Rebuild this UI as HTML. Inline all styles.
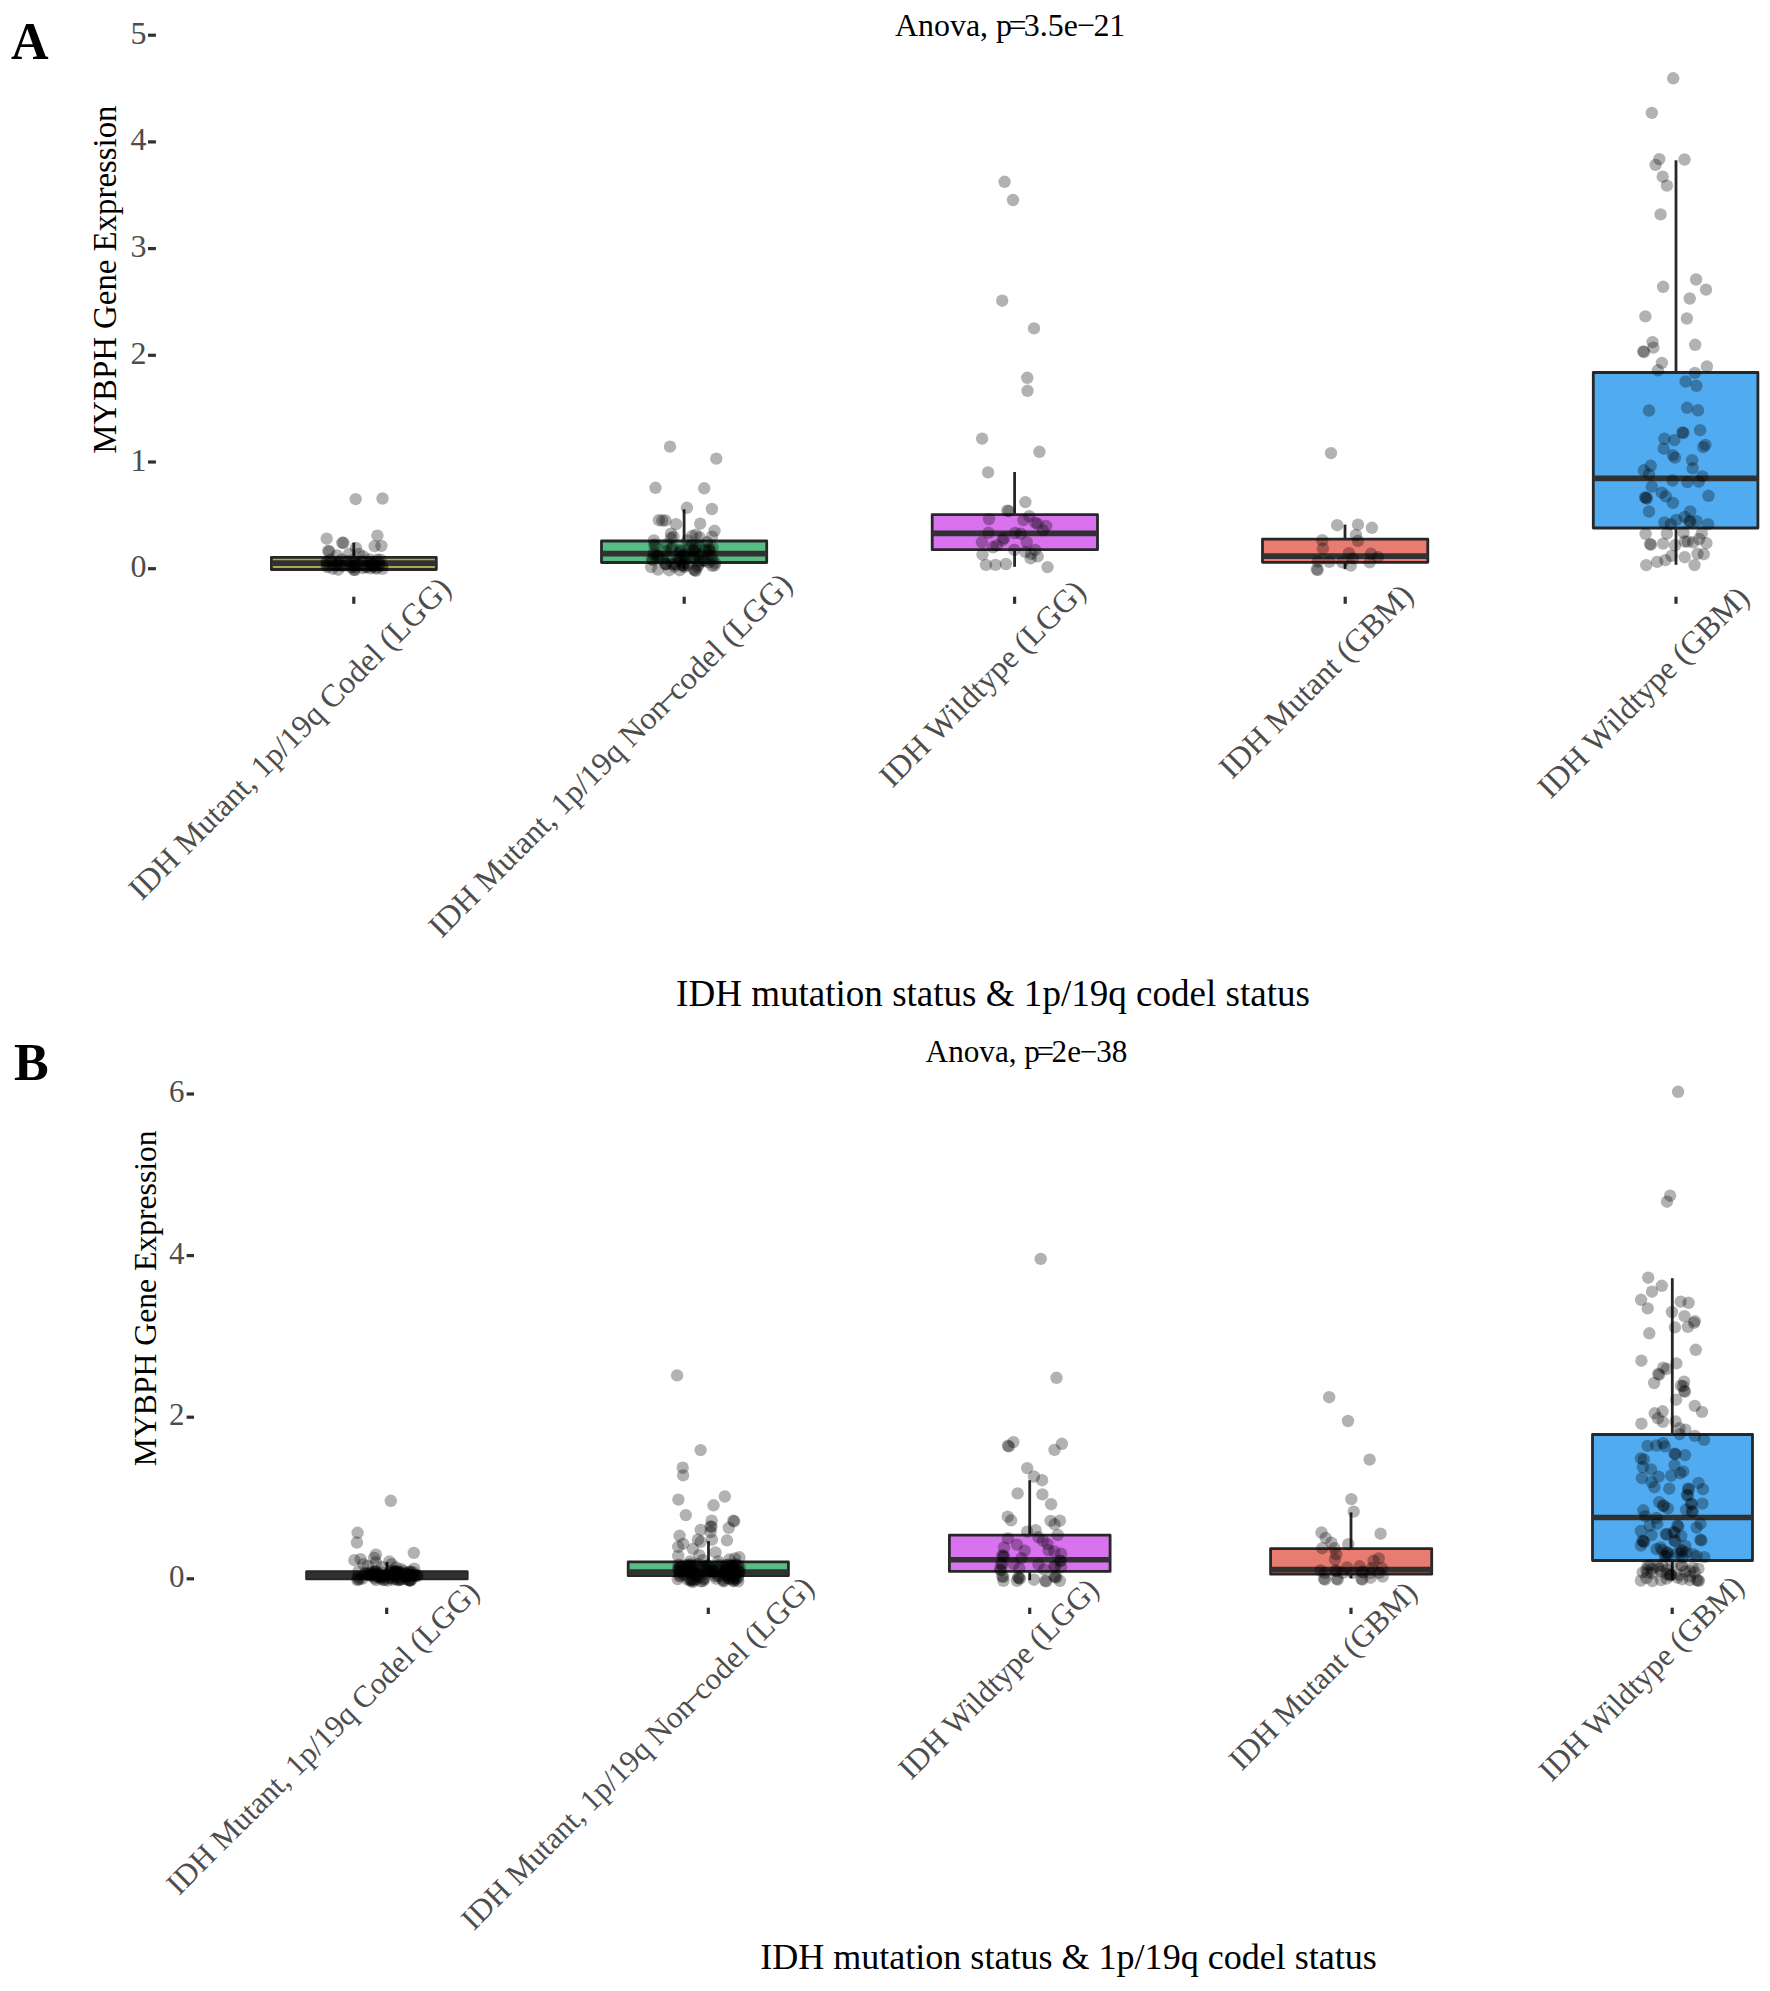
<!DOCTYPE html>
<html lang="en"><head><meta charset="utf-8"><title>MYBPH expression by IDH status</title>
<style>html,body{margin:0;padding:0;background:#fff}svg{display:block}text{font-family:'Liberation Serif', 'Times New Roman', serif}</style></head><body>
<svg width="1770" height="1991" viewBox="0 0 1770 1991">
<rect width="1770" height="1991" fill="#ffffff"/>
<text x="11" y="58.5" font-size="52" font-weight="bold" fill="#000">A</text>
<text x="14" y="1080.4" font-size="52" font-weight="bold" fill="#000">B</text>
<g id="panelA">
<text x="1010.2" y="35.6" font-size="31.9" text-anchor="middle" fill="#000">Anova, p<tspan dx="-3.6">=</tspan><tspan dx="-2.6">3.5e</tspan><tspan dx="-1.2">−</tspan><tspan dx="-1.2">21</tspan></text>
<text transform="translate(116.3,279.7) rotate(-90)" font-size="32.83" text-anchor="middle" fill="#000">MYBPH Gene Expression</text>
<text x="993" y="1006.4" font-size="37.05" text-anchor="middle" fill="#000">IDH mutation status &amp; 1p/19q codel status</text>
<line x1="148" y1="568.7" x2="155.9" y2="568.7" stroke="#303030" stroke-width="3.2"/>
<text x="146.6" y="577.2" font-size="32" text-anchor="end" fill="#4d4d4d">0</text>
<line x1="148" y1="462.0" x2="155.9" y2="462.0" stroke="#303030" stroke-width="3.2"/>
<text x="146.6" y="470.5" font-size="32" text-anchor="end" fill="#4d4d4d">1</text>
<line x1="148" y1="355.3" x2="155.9" y2="355.3" stroke="#303030" stroke-width="3.2"/>
<text x="146.6" y="363.8" font-size="32" text-anchor="end" fill="#4d4d4d">2</text>
<line x1="148" y1="248.6" x2="155.9" y2="248.6" stroke="#303030" stroke-width="3.2"/>
<text x="146.6" y="257.1" font-size="32" text-anchor="end" fill="#4d4d4d">3</text>
<line x1="148" y1="141.9" x2="155.9" y2="141.9" stroke="#303030" stroke-width="3.2"/>
<text x="146.6" y="150.4" font-size="32" text-anchor="end" fill="#4d4d4d">4</text>
<line x1="148" y1="35.2" x2="155.9" y2="35.2" stroke="#303030" stroke-width="3.2"/>
<text x="146.6" y="43.7" font-size="32" text-anchor="end" fill="#4d4d4d">5</text>
<line x1="353.8" y1="596.7" x2="353.8" y2="603.8" stroke="#303030" stroke-width="3.2"/>
<line x1="684.2" y1="596.7" x2="684.2" y2="603.8" stroke="#303030" stroke-width="3.2"/>
<line x1="1014.6" y1="596.7" x2="1014.6" y2="603.8" stroke="#303030" stroke-width="3.2"/>
<line x1="1345.2" y1="596.7" x2="1345.2" y2="603.8" stroke="#303030" stroke-width="3.2"/>
<line x1="1676.0" y1="596.7" x2="1676.0" y2="603.8" stroke="#303030" stroke-width="3.2"/>
<text transform="translate(452.7,590.3) rotate(-45)" font-size="31.9" text-anchor="end" fill="#4d4d4d">IDH Mutant, 1p/19q Codel (LGG)</text>
<text transform="translate(794.0,586.3) rotate(-45)" font-size="31.9" text-anchor="end" fill="#4d4d4d">IDH Mutant, 1p/19q Non<tspan dx="-3.7">−</tspan><tspan dx="-3.7">codel (LGG)</tspan></text>
<text transform="translate(1087.5,593.3) rotate(-45)" font-size="31.9" text-anchor="end" fill="#4d4d4d">IDH Wildtype (LGG)</text>
<text transform="translate(1414.9,597.2) rotate(-45)" font-size="31.9" text-anchor="end" fill="#4d4d4d">IDH Mutant (GBM)</text>
<text transform="translate(1750.9,599.4) rotate(-45)" font-size="31.9" text-anchor="end" fill="#4d4d4d">IDH Wildtype (GBM)</text>
<line x1="353.8" y1="542.6" x2="353.8" y2="557.4" stroke="#272727" stroke-width="2.8"/>
<rect x="271.4" y="557.4" width="164.9" height="12.1" fill="#a9a85a" stroke="#272727" stroke-width="2.8" stroke-linejoin="round"/>
<line x1="271.4" y1="563.1" x2="436.3" y2="563.1" stroke="#313131" stroke-width="5.6"/>
<line x1="684.1" y1="509.3" x2="684.1" y2="541.0" stroke="#272727" stroke-width="2.8"/>
<line x1="684.1" y1="562.5" x2="684.1" y2="568.7" stroke="#272727" stroke-width="2.8"/>
<rect x="601.5" y="541.0" width="165.2" height="21.5" fill="#58bd84" stroke="#272727" stroke-width="2.8" stroke-linejoin="round"/>
<line x1="601.5" y1="553.6" x2="766.7" y2="553.6" stroke="#313131" stroke-width="5.6"/>
<line x1="1014.6" y1="472.0" x2="1014.6" y2="514.6" stroke="#272727" stroke-width="2.8"/>
<line x1="1014.6" y1="549.7" x2="1014.6" y2="566.8" stroke="#272727" stroke-width="2.8"/>
<rect x="932.2" y="514.6" width="165.3" height="35.1" fill="#d872ee" stroke="#272727" stroke-width="2.8" stroke-linejoin="round"/>
<line x1="932.2" y1="533.4" x2="1097.5" y2="533.4" stroke="#313131" stroke-width="5.6"/>
<line x1="1345.0" y1="524.6" x2="1345.0" y2="539.2" stroke="#272727" stroke-width="2.8"/>
<line x1="1345.0" y1="562.3" x2="1345.0" y2="569.2" stroke="#272727" stroke-width="2.8"/>
<rect x="1262.5" y="539.2" width="165.3" height="23.1" fill="#e87c71" stroke="#272727" stroke-width="2.8" stroke-linejoin="round"/>
<line x1="1262.5" y1="556.1" x2="1427.8" y2="556.1" stroke="#313131" stroke-width="5.6"/>
<line x1="1676.0" y1="160.3" x2="1676.0" y2="372.5" stroke="#272727" stroke-width="2.8"/>
<line x1="1676.0" y1="528.0" x2="1676.0" y2="564.8" stroke="#272727" stroke-width="2.8"/>
<rect x="1593.3" y="372.5" width="164.6" height="155.5" fill="#50abf0" stroke="#272727" stroke-width="2.8" stroke-linejoin="round"/>
<line x1="1593.3" y1="478.4" x2="1757.9" y2="478.4" stroke="#313131" stroke-width="5.6"/>
<g fill="#000" fill-opacity="0.3">
<circle cx="355.7" cy="499.1" r="6.2"/>
<circle cx="382.5" cy="498.5" r="6.2"/>
<circle cx="326.7" cy="538.7" r="6.2"/>
<circle cx="377.4" cy="535.6" r="6.2"/>
<circle cx="343.5" cy="542.8" r="6.2"/>
<circle cx="342.3" cy="542.8" r="6.2"/>
<circle cx="374.6" cy="546.2" r="6.2"/>
<circle cx="381.4" cy="545.9" r="6.2"/>
<circle cx="355.9" cy="548.0" r="6.2"/>
<circle cx="328.3" cy="550.9" r="6.2"/>
<circle cx="329.2" cy="551.5" r="6.2"/>
<circle cx="337.0" cy="555.5" r="6.2"/>
<circle cx="349.1" cy="554.0" r="6.2"/>
<circle cx="359.0" cy="554.0" r="6.2"/>
<circle cx="363.4" cy="556.4" r="6.2"/>
<circle cx="332.8" cy="568.7" r="6.2"/>
<circle cx="369.3" cy="562.3" r="6.2"/>
<circle cx="353.7" cy="564.4" r="6.2"/>
<circle cx="362.8" cy="568.0" r="6.2"/>
<circle cx="330.4" cy="559.8" r="6.2"/>
<circle cx="373.5" cy="564.2" r="6.2"/>
<circle cx="369.2" cy="559.5" r="6.2"/>
<circle cx="350.8" cy="567.3" r="6.2"/>
<circle cx="338.3" cy="569.7" r="6.2"/>
<circle cx="377.3" cy="559.8" r="6.2"/>
<circle cx="326.5" cy="565.3" r="6.2"/>
<circle cx="379.5" cy="563.6" r="6.2"/>
<circle cx="337.6" cy="564.1" r="6.2"/>
<circle cx="326.7" cy="561.9" r="6.2"/>
<circle cx="350.4" cy="564.9" r="6.2"/>
<circle cx="338.5" cy="562.0" r="6.2"/>
<circle cx="337.7" cy="564.5" r="6.2"/>
<circle cx="341.8" cy="559.7" r="6.2"/>
<circle cx="373.6" cy="565.5" r="6.2"/>
<circle cx="362.3" cy="561.5" r="6.2"/>
<circle cx="382.6" cy="568.8" r="6.2"/>
<circle cx="332.0" cy="563.1" r="6.2"/>
<circle cx="366.8" cy="567.2" r="6.2"/>
<circle cx="379.3" cy="564.1" r="6.2"/>
<circle cx="373.1" cy="566.7" r="6.2"/>
<circle cx="342.6" cy="565.8" r="6.2"/>
<circle cx="376.2" cy="568.6" r="6.2"/>
<circle cx="354.3" cy="565.9" r="6.2"/>
<circle cx="327.0" cy="562.1" r="6.2"/>
<circle cx="371.2" cy="564.0" r="6.2"/>
<circle cx="335.0" cy="565.4" r="6.2"/>
<circle cx="365.8" cy="566.8" r="6.2"/>
<circle cx="346.7" cy="564.2" r="6.2"/>
<circle cx="354.5" cy="567.9" r="6.2"/>
<circle cx="355.2" cy="563.7" r="6.2"/>
<circle cx="353.4" cy="559.8" r="6.2"/>
<circle cx="327.5" cy="567.1" r="6.2"/>
<circle cx="382.0" cy="565.9" r="6.2"/>
<circle cx="347.8" cy="561.3" r="6.2"/>
<circle cx="354.1" cy="570.1" r="6.2"/>
<circle cx="369.7" cy="565.3" r="6.2"/>
<circle cx="374.9" cy="562.0" r="6.2"/>
<circle cx="354.8" cy="569.8" r="6.2"/>
<circle cx="358.5" cy="564.5" r="6.2"/>
<circle cx="340.6" cy="565.4" r="6.2"/>
<circle cx="380.5" cy="559.6" r="6.2"/>
<circle cx="370.5" cy="568.4" r="6.2"/>
<circle cx="376.4" cy="567.5" r="6.2"/>
<circle cx="371.9" cy="565.1" r="6.2"/>
<circle cx="357.6" cy="564.1" r="6.2"/>
<circle cx="670.0" cy="446.6" r="6.2"/>
<circle cx="716.3" cy="458.6" r="6.2"/>
<circle cx="655.5" cy="487.8" r="6.2"/>
<circle cx="704.2" cy="488.3" r="6.2"/>
<circle cx="686.9" cy="507.8" r="6.2"/>
<circle cx="711.9" cy="509.0" r="6.2"/>
<circle cx="658.9" cy="520.2" r="6.2"/>
<circle cx="662.3" cy="520.5" r="6.2"/>
<circle cx="665.4" cy="520.5" r="6.2"/>
<circle cx="676.1" cy="524.2" r="6.2"/>
<circle cx="700.2" cy="523.7" r="6.2"/>
<circle cx="714.5" cy="530.8" r="6.2"/>
<circle cx="671.0" cy="533.6" r="6.2"/>
<circle cx="673.5" cy="536.7" r="6.2"/>
<circle cx="671.0" cy="538.2" r="6.2"/>
<circle cx="692.2" cy="536.0" r="6.2"/>
<circle cx="695.9" cy="534.8" r="6.2"/>
<circle cx="699.6" cy="537.3" r="6.2"/>
<circle cx="712.0" cy="536.7" r="6.2"/>
<circle cx="653.9" cy="540.4" r="6.2"/>
<circle cx="687.2" cy="540.4" r="6.2"/>
<circle cx="707.0" cy="542.3" r="6.2"/>
<circle cx="651.1" cy="567.1" r="6.2"/>
<circle cx="658.0" cy="569.6" r="6.2"/>
<circle cx="669.2" cy="570.2" r="6.2"/>
<circle cx="679.7" cy="570.2" r="6.2"/>
<circle cx="694.0" cy="569.6" r="6.2"/>
<circle cx="694.9" cy="570.2" r="6.2"/>
<circle cx="695.8" cy="570.8" r="6.2"/>
<circle cx="714.5" cy="565.3" r="6.2"/>
<circle cx="715.0" cy="562.8" r="6.2"/>
<circle cx="712.2" cy="565.8" r="6.2"/>
<circle cx="655.6" cy="546.0" r="6.2"/>
<circle cx="704.6" cy="560.9" r="6.2"/>
<circle cx="694.2" cy="551.1" r="6.2"/>
<circle cx="690.2" cy="558.0" r="6.2"/>
<circle cx="688.6" cy="547.6" r="6.2"/>
<circle cx="679.1" cy="553.1" r="6.2"/>
<circle cx="697.5" cy="566.9" r="6.2"/>
<circle cx="711.8" cy="556.5" r="6.2"/>
<circle cx="680.0" cy="550.2" r="6.2"/>
<circle cx="654.3" cy="544.6" r="6.2"/>
<circle cx="681.3" cy="551.3" r="6.2"/>
<circle cx="675.9" cy="564.5" r="6.2"/>
<circle cx="685.1" cy="556.9" r="6.2"/>
<circle cx="666.9" cy="544.5" r="6.2"/>
<circle cx="672.5" cy="547.1" r="6.2"/>
<circle cx="684.1" cy="567.0" r="6.2"/>
<circle cx="694.5" cy="548.2" r="6.2"/>
<circle cx="708.3" cy="562.3" r="6.2"/>
<circle cx="698.3" cy="564.9" r="6.2"/>
<circle cx="700.1" cy="562.2" r="6.2"/>
<circle cx="674.3" cy="566.6" r="6.2"/>
<circle cx="712.6" cy="547.7" r="6.2"/>
<circle cx="699.5" cy="560.4" r="6.2"/>
<circle cx="681.1" cy="556.2" r="6.2"/>
<circle cx="682.9" cy="565.3" r="6.2"/>
<circle cx="683.6" cy="563.1" r="6.2"/>
<circle cx="674.3" cy="564.3" r="6.2"/>
<circle cx="708.7" cy="554.6" r="6.2"/>
<circle cx="687.8" cy="565.2" r="6.2"/>
<circle cx="697.6" cy="555.2" r="6.2"/>
<circle cx="666.0" cy="551.5" r="6.2"/>
<circle cx="696.1" cy="547.8" r="6.2"/>
<circle cx="709.2" cy="550.2" r="6.2"/>
<circle cx="709.4" cy="551.1" r="6.2"/>
<circle cx="712.3" cy="560.2" r="6.2"/>
<circle cx="683.8" cy="555.9" r="6.2"/>
<circle cx="693.0" cy="557.5" r="6.2"/>
<circle cx="671.6" cy="548.8" r="6.2"/>
<circle cx="684.2" cy="565.5" r="6.2"/>
<circle cx="691.3" cy="545.7" r="6.2"/>
<circle cx="703.7" cy="560.7" r="6.2"/>
<circle cx="709.2" cy="548.4" r="6.2"/>
<circle cx="698.9" cy="545.4" r="6.2"/>
<circle cx="693.1" cy="550.3" r="6.2"/>
<circle cx="666.3" cy="564.1" r="6.2"/>
<circle cx="658.7" cy="556.0" r="6.2"/>
<circle cx="705.8" cy="549.6" r="6.2"/>
<circle cx="665.3" cy="564.3" r="6.2"/>
<circle cx="678.6" cy="560.5" r="6.2"/>
<circle cx="654.0" cy="552.3" r="6.2"/>
<circle cx="662.8" cy="559.5" r="6.2"/>
<circle cx="666.8" cy="555.8" r="6.2"/>
<circle cx="683.8" cy="554.9" r="6.2"/>
<circle cx="677.9" cy="558.4" r="6.2"/>
<circle cx="653.0" cy="560.1" r="6.2"/>
<circle cx="651.9" cy="559.2" r="6.2"/>
<circle cx="653.6" cy="555.1" r="6.2"/>
<circle cx="672.1" cy="563.9" r="6.2"/>
<circle cx="656.4" cy="556.7" r="6.2"/>
<circle cx="682.6" cy="565.4" r="6.2"/>
<circle cx="680.0" cy="558.8" r="6.2"/>
<circle cx="700.8" cy="554.6" r="6.2"/>
<circle cx="694.6" cy="557.5" r="6.2"/>
<circle cx="657.5" cy="555.4" r="6.2"/>
<circle cx="666.0" cy="563.8" r="6.2"/>
<circle cx="1004.6" cy="181.8" r="6.2"/>
<circle cx="1013.0" cy="200.0" r="6.2"/>
<circle cx="1002.2" cy="300.7" r="6.2"/>
<circle cx="1034.0" cy="328.4" r="6.2"/>
<circle cx="1027.3" cy="377.8" r="6.2"/>
<circle cx="1027.5" cy="390.8" r="6.2"/>
<circle cx="982.1" cy="438.6" r="6.2"/>
<circle cx="1039.4" cy="451.8" r="6.2"/>
<circle cx="988.1" cy="472.4" r="6.2"/>
<circle cx="1025.4" cy="502.1" r="6.2"/>
<circle cx="1007.2" cy="510.6" r="6.2"/>
<circle cx="1008.9" cy="511.0" r="6.2"/>
<circle cx="989.0" cy="519.1" r="6.2"/>
<circle cx="1029.3" cy="516.2" r="6.2"/>
<circle cx="1023.4" cy="520.1" r="6.2"/>
<circle cx="1035.1" cy="522.6" r="6.2"/>
<circle cx="1037.7" cy="524.0" r="6.2"/>
<circle cx="1046.2" cy="525.9" r="6.2"/>
<circle cx="1042.9" cy="530.4" r="6.2"/>
<circle cx="988.4" cy="532.8" r="6.2"/>
<circle cx="1015.0" cy="533.0" r="6.2"/>
<circle cx="1020.8" cy="533.7" r="6.2"/>
<circle cx="1004.0" cy="538.2" r="6.2"/>
<circle cx="1002.6" cy="540.2" r="6.2"/>
<circle cx="981.9" cy="542.1" r="6.2"/>
<circle cx="1026.7" cy="542.1" r="6.2"/>
<circle cx="992.9" cy="547.3" r="6.2"/>
<circle cx="996.8" cy="545.4" r="6.2"/>
<circle cx="1014.3" cy="549.9" r="6.2"/>
<circle cx="1035.1" cy="549.9" r="6.2"/>
<circle cx="1025.4" cy="551.9" r="6.2"/>
<circle cx="1031.2" cy="553.8" r="6.2"/>
<circle cx="1037.7" cy="556.4" r="6.2"/>
<circle cx="1030.6" cy="558.4" r="6.2"/>
<circle cx="982.5" cy="554.5" r="6.2"/>
<circle cx="986.0" cy="564.9" r="6.2"/>
<circle cx="995.5" cy="564.9" r="6.2"/>
<circle cx="1005.9" cy="564.0" r="6.2"/>
<circle cx="1047.5" cy="567.1" r="6.2"/>
<circle cx="1331.0" cy="453.1" r="6.2"/>
<circle cx="1337.2" cy="525.2" r="6.2"/>
<circle cx="1358.0" cy="524.6" r="6.2"/>
<circle cx="1371.9" cy="527.8" r="6.2"/>
<circle cx="1356.0" cy="535.0" r="6.2"/>
<circle cx="1322.3" cy="540.2" r="6.2"/>
<circle cx="1358.0" cy="540.8" r="6.2"/>
<circle cx="1322.9" cy="548.6" r="6.2"/>
<circle cx="1348.9" cy="553.2" r="6.2"/>
<circle cx="1371.0" cy="553.8" r="6.2"/>
<circle cx="1352.8" cy="558.4" r="6.2"/>
<circle cx="1378.1" cy="557.1" r="6.2"/>
<circle cx="1317.7" cy="561.6" r="6.2"/>
<circle cx="1329.4" cy="561.9" r="6.2"/>
<circle cx="1342.4" cy="562.3" r="6.2"/>
<circle cx="1369.7" cy="562.3" r="6.2"/>
<circle cx="1350.8" cy="565.5" r="6.2"/>
<circle cx="1316.8" cy="569.4" r="6.2"/>
<circle cx="1317.7" cy="570.0" r="6.2"/>
<circle cx="1673.2" cy="78.3" r="6.2"/>
<circle cx="1651.8" cy="112.9" r="6.2"/>
<circle cx="1659.3" cy="159.1" r="6.2"/>
<circle cx="1655.6" cy="164.9" r="6.2"/>
<circle cx="1684.5" cy="159.5" r="6.2"/>
<circle cx="1662.7" cy="176.7" r="6.2"/>
<circle cx="1666.9" cy="185.6" r="6.2"/>
<circle cx="1660.6" cy="214.4" r="6.2"/>
<circle cx="1696.1" cy="279.5" r="6.2"/>
<circle cx="1663.1" cy="286.8" r="6.2"/>
<circle cx="1706.0" cy="289.6" r="6.2"/>
<circle cx="1689.7" cy="298.5" r="6.2"/>
<circle cx="1645.4" cy="316.4" r="6.2"/>
<circle cx="1686.9" cy="318.5" r="6.2"/>
<circle cx="1652.5" cy="342.1" r="6.2"/>
<circle cx="1653.4" cy="347.6" r="6.2"/>
<circle cx="1643.2" cy="351.4" r="6.2"/>
<circle cx="1644.1" cy="352.0" r="6.2"/>
<circle cx="1695.2" cy="344.8" r="6.2"/>
<circle cx="1661.9" cy="362.9" r="6.2"/>
<circle cx="1657.9" cy="370.3" r="6.2"/>
<circle cx="1706.9" cy="366.5" r="6.2"/>
<circle cx="1694.9" cy="372.9" r="6.2"/>
<circle cx="1685.6" cy="381.5" r="6.2"/>
<circle cx="1696.4" cy="385.8" r="6.2"/>
<circle cx="1649.0" cy="410.5" r="6.2"/>
<circle cx="1687.1" cy="407.8" r="6.2"/>
<circle cx="1698.0" cy="410.3" r="6.2"/>
<circle cx="1700.1" cy="430.2" r="6.2"/>
<circle cx="1682.5" cy="432.4" r="6.2"/>
<circle cx="1683.4" cy="433.0" r="6.2"/>
<circle cx="1664.4" cy="438.8" r="6.2"/>
<circle cx="1674.4" cy="440.1" r="6.2"/>
<circle cx="1705.4" cy="444.9" r="6.2"/>
<circle cx="1703.4" cy="447.0" r="6.2"/>
<circle cx="1663.7" cy="448.7" r="6.2"/>
<circle cx="1672.9" cy="455.1" r="6.2"/>
<circle cx="1674.9" cy="457.6" r="6.2"/>
<circle cx="1692.2" cy="460.2" r="6.2"/>
<circle cx="1650.7" cy="465.8" r="6.2"/>
<circle cx="1692.7" cy="468.3" r="6.2"/>
<circle cx="1643.9" cy="470.3" r="6.2"/>
<circle cx="1649.0" cy="474.4" r="6.2"/>
<circle cx="1702.4" cy="476.4" r="6.2"/>
<circle cx="1672.6" cy="480.5" r="6.2"/>
<circle cx="1687.4" cy="482.0" r="6.2"/>
<circle cx="1698.8" cy="481.5" r="6.2"/>
<circle cx="1651.8" cy="486.6" r="6.2"/>
<circle cx="1661.7" cy="492.7" r="6.2"/>
<circle cx="1665.8" cy="496.3" r="6.2"/>
<circle cx="1645.1" cy="497.3" r="6.2"/>
<circle cx="1646.0" cy="497.9" r="6.2"/>
<circle cx="1646.9" cy="498.5" r="6.2"/>
<circle cx="1708.5" cy="495.8" r="6.2"/>
<circle cx="1672.9" cy="502.9" r="6.2"/>
<circle cx="1649.0" cy="511.5" r="6.2"/>
<circle cx="1690.2" cy="511.5" r="6.2"/>
<circle cx="1684.7" cy="516.9" r="6.2"/>
<circle cx="1676.3" cy="519.9" r="6.2"/>
<circle cx="1689.4" cy="521.2" r="6.2"/>
<circle cx="1690.3" cy="521.8" r="6.2"/>
<circle cx="1664.4" cy="522.5" r="6.2"/>
<circle cx="1670.8" cy="524.2" r="6.2"/>
<circle cx="1696.6" cy="521.2" r="6.2"/>
<circle cx="1708.1" cy="524.2" r="6.2"/>
<circle cx="1645.6" cy="533.9" r="6.2"/>
<circle cx="1666.9" cy="533.5" r="6.2"/>
<circle cx="1683.5" cy="532.6" r="6.2"/>
<circle cx="1701.7" cy="533.5" r="6.2"/>
<circle cx="1650.0" cy="544.1" r="6.2"/>
<circle cx="1650.9" cy="544.7" r="6.2"/>
<circle cx="1663.1" cy="543.6" r="6.2"/>
<circle cx="1675.0" cy="545.3" r="6.2"/>
<circle cx="1684.7" cy="541.5" r="6.2"/>
<circle cx="1687.7" cy="541.5" r="6.2"/>
<circle cx="1693.2" cy="542.4" r="6.2"/>
<circle cx="1699.2" cy="539.0" r="6.2"/>
<circle cx="1706.4" cy="543.2" r="6.2"/>
<circle cx="1697.5" cy="553.8" r="6.2"/>
<circle cx="1703.8" cy="554.2" r="6.2"/>
<circle cx="1684.7" cy="557.2" r="6.2"/>
<circle cx="1671.6" cy="555.9" r="6.2"/>
<circle cx="1665.3" cy="560.2" r="6.2"/>
<circle cx="1657.2" cy="561.9" r="6.2"/>
<circle cx="1646.2" cy="565.1" r="6.2"/>
<circle cx="1694.5" cy="565.1" r="6.2"/>
</g>
</g>
<g id="panelB">
<text x="1026.5" y="1061.5" font-size="31.2" text-anchor="middle" fill="#000">Anova, p<tspan dx="-3.5">=</tspan><tspan dx="-2.5">2e</tspan><tspan dx="-1.2">−</tspan><tspan dx="-1.2">38</tspan></text>
<text transform="translate(156,1298.3) rotate(-90)" font-size="31.67" text-anchor="middle" fill="#000">MYBPH Gene Expression</text>
<text x="1068.5" y="1969.0" font-size="36.05" text-anchor="middle" fill="#000">IDH mutation status &amp; 1p/19q codel status</text>
<line x1="186.6" y1="1578.8" x2="194" y2="1578.8" stroke="#303030" stroke-width="3.2"/>
<text x="184.6" y="1586.8" font-size="31" text-anchor="end" fill="#4d4d4d">0</text>
<line x1="186.6" y1="1417.2" x2="194" y2="1417.2" stroke="#303030" stroke-width="3.2"/>
<text x="184.6" y="1425.2" font-size="31" text-anchor="end" fill="#4d4d4d">2</text>
<line x1="186.6" y1="1255.6" x2="194" y2="1255.6" stroke="#303030" stroke-width="3.2"/>
<text x="184.6" y="1263.6" font-size="31" text-anchor="end" fill="#4d4d4d">4</text>
<line x1="186.6" y1="1094.0" x2="194" y2="1094.0" stroke="#303030" stroke-width="3.2"/>
<text x="184.6" y="1102.0" font-size="31" text-anchor="end" fill="#4d4d4d">6</text>
<line x1="386.7" y1="1607.7" x2="386.7" y2="1614" stroke="#303030" stroke-width="3.2"/>
<line x1="708.3" y1="1607.7" x2="708.3" y2="1614" stroke="#303030" stroke-width="3.2"/>
<line x1="1029.7" y1="1607.7" x2="1029.7" y2="1614" stroke="#303030" stroke-width="3.2"/>
<line x1="1351.0" y1="1607.7" x2="1351.0" y2="1614" stroke="#303030" stroke-width="3.2"/>
<line x1="1672.2" y1="1607.7" x2="1672.2" y2="1614" stroke="#303030" stroke-width="3.2"/>
<text transform="translate(481.0,1594.2) rotate(-45)" font-size="30.95" text-anchor="end" fill="#4d4d4d">IDH Mutant, 1p/19q Codel (LGG)</text>
<text transform="translate(815.7,1589.5) rotate(-45)" font-size="30.95" text-anchor="end" fill="#4d4d4d">IDH Mutant, 1p/19q Non<tspan dx="-3.7">−</tspan><tspan dx="-3.7">codel (LGG)</tspan></text>
<text transform="translate(1100.5,1591.2) rotate(-45)" font-size="30.95" text-anchor="end" fill="#4d4d4d">IDH Wildtype (LGG)</text>
<text transform="translate(1418.9,1594.3) rotate(-45)" font-size="30.95" text-anchor="end" fill="#4d4d4d">IDH Mutant (GBM)</text>
<text transform="translate(1745.8,1588.5) rotate(-45)" font-size="30.95" text-anchor="end" fill="#4d4d4d">IDH Wildtype (GBM)</text>
<line x1="387.0" y1="1561.9" x2="387.0" y2="1571.7" stroke="#272727" stroke-width="2.8"/>
<rect x="306.6" y="1571.7" width="160.6" height="7.2" fill="#2b2b2b" stroke="#272727" stroke-width="2.8" stroke-linejoin="round"/>
<line x1="306.6" y1="1575.3" x2="467.2" y2="1575.3" stroke="#313131" stroke-width="5.6"/>
<line x1="708.5" y1="1541.1" x2="708.5" y2="1561.8" stroke="#272727" stroke-width="2.8"/>
<rect x="628.2" y="1561.8" width="160.2" height="13.9" fill="#58bd84" stroke="#272727" stroke-width="2.8" stroke-linejoin="round"/>
<line x1="628.2" y1="1572.0" x2="788.4" y2="1572.0" stroke="#313131" stroke-width="5.6"/>
<line x1="1029.7" y1="1480.2" x2="1029.7" y2="1535.2" stroke="#272727" stroke-width="2.8"/>
<line x1="1029.7" y1="1571.4" x2="1029.7" y2="1580.2" stroke="#272727" stroke-width="2.8"/>
<rect x="949.4" y="1535.2" width="160.7" height="36.2" fill="#d872ee" stroke="#272727" stroke-width="2.8" stroke-linejoin="round"/>
<line x1="949.4" y1="1559.8" x2="1110.1" y2="1559.8" stroke="#313131" stroke-width="5.6"/>
<line x1="1351.0" y1="1512.4" x2="1351.0" y2="1548.6" stroke="#272727" stroke-width="2.8"/>
<line x1="1351.0" y1="1574.2" x2="1351.0" y2="1578.3" stroke="#272727" stroke-width="2.8"/>
<rect x="1270.6" y="1548.6" width="161.1" height="25.6" fill="#e87c71" stroke="#272727" stroke-width="2.8" stroke-linejoin="round"/>
<line x1="1270.6" y1="1569.6" x2="1431.7" y2="1569.6" stroke="#313131" stroke-width="5.6"/>
<line x1="1672.3" y1="1278.2" x2="1672.3" y2="1434.5" stroke="#272727" stroke-width="2.8"/>
<line x1="1672.3" y1="1560.5" x2="1672.3" y2="1580.1" stroke="#272727" stroke-width="2.8"/>
<rect x="1592.5" y="1434.5" width="160.0" height="126.0" fill="#50abf0" stroke="#272727" stroke-width="2.8" stroke-linejoin="round"/>
<line x1="1592.5" y1="1517.5" x2="1752.5" y2="1517.5" stroke="#313131" stroke-width="5.6"/>
<g fill="#000" fill-opacity="0.3">
<circle cx="390.8" cy="1500.8" r="6.2"/>
<circle cx="357.6" cy="1532.8" r="6.2"/>
<circle cx="356.9" cy="1542.5" r="6.2"/>
<circle cx="413.8" cy="1552.9" r="6.2"/>
<circle cx="375.9" cy="1554.6" r="6.2"/>
<circle cx="374.2" cy="1558.0" r="6.2"/>
<circle cx="354.4" cy="1560.2" r="6.2"/>
<circle cx="360.6" cy="1559.1" r="6.2"/>
<circle cx="363.4" cy="1564.2" r="6.2"/>
<circle cx="375.9" cy="1562.5" r="6.2"/>
<circle cx="389.4" cy="1561.4" r="6.2"/>
<circle cx="391.7" cy="1564.2" r="6.2"/>
<circle cx="414.3" cy="1568.7" r="6.2"/>
<circle cx="401.3" cy="1569.3" r="6.2"/>
<circle cx="368.0" cy="1566.0" r="6.2"/>
<circle cx="382.0" cy="1567.0" r="6.2"/>
<circle cx="396.0" cy="1567.5" r="6.2"/>
<circle cx="371.5" cy="1576.2" r="6.2"/>
<circle cx="379.6" cy="1576.7" r="6.2"/>
<circle cx="395.2" cy="1571.6" r="6.2"/>
<circle cx="357.8" cy="1579.0" r="6.2"/>
<circle cx="372.8" cy="1573.2" r="6.2"/>
<circle cx="417.7" cy="1575.5" r="6.2"/>
<circle cx="408.0" cy="1575.5" r="6.2"/>
<circle cx="396.0" cy="1572.4" r="6.2"/>
<circle cx="395.7" cy="1579.2" r="6.2"/>
<circle cx="388.9" cy="1578.0" r="6.2"/>
<circle cx="398.0" cy="1571.6" r="6.2"/>
<circle cx="403.3" cy="1576.6" r="6.2"/>
<circle cx="375.4" cy="1571.3" r="6.2"/>
<circle cx="409.8" cy="1575.5" r="6.2"/>
<circle cx="400.8" cy="1579.3" r="6.2"/>
<circle cx="400.6" cy="1579.8" r="6.2"/>
<circle cx="381.1" cy="1578.6" r="6.2"/>
<circle cx="384.1" cy="1579.9" r="6.2"/>
<circle cx="410.6" cy="1571.9" r="6.2"/>
<circle cx="365.3" cy="1573.1" r="6.2"/>
<circle cx="415.9" cy="1575.1" r="6.2"/>
<circle cx="395.2" cy="1573.9" r="6.2"/>
<circle cx="387.9" cy="1574.7" r="6.2"/>
<circle cx="378.4" cy="1576.6" r="6.2"/>
<circle cx="392.6" cy="1579.6" r="6.2"/>
<circle cx="398.6" cy="1579.8" r="6.2"/>
<circle cx="409.2" cy="1580.4" r="6.2"/>
<circle cx="397.9" cy="1572.5" r="6.2"/>
<circle cx="409.5" cy="1580.2" r="6.2"/>
<circle cx="412.2" cy="1576.4" r="6.2"/>
<circle cx="400.5" cy="1573.0" r="6.2"/>
<circle cx="407.7" cy="1576.4" r="6.2"/>
<circle cx="374.4" cy="1571.6" r="6.2"/>
<circle cx="409.1" cy="1580.4" r="6.2"/>
<circle cx="362.4" cy="1578.6" r="6.2"/>
<circle cx="382.0" cy="1572.4" r="6.2"/>
<circle cx="374.9" cy="1578.3" r="6.2"/>
<circle cx="410.2" cy="1571.4" r="6.2"/>
<circle cx="394.5" cy="1571.4" r="6.2"/>
<circle cx="400.8" cy="1574.1" r="6.2"/>
<circle cx="410.7" cy="1580.3" r="6.2"/>
<circle cx="387.8" cy="1580.5" r="6.2"/>
<circle cx="375.9" cy="1571.7" r="6.2"/>
<circle cx="393.6" cy="1571.3" r="6.2"/>
<circle cx="369.0" cy="1574.9" r="6.2"/>
<circle cx="394.2" cy="1572.5" r="6.2"/>
<circle cx="359.6" cy="1579.2" r="6.2"/>
<circle cx="376.1" cy="1580.1" r="6.2"/>
<circle cx="411.7" cy="1574.6" r="6.2"/>
<circle cx="385.1" cy="1575.9" r="6.2"/>
<circle cx="396.3" cy="1576.7" r="6.2"/>
<circle cx="391.1" cy="1576.9" r="6.2"/>
<circle cx="414.4" cy="1575.8" r="6.2"/>
<circle cx="383.3" cy="1577.8" r="6.2"/>
<circle cx="371.5" cy="1573.9" r="6.2"/>
<circle cx="416.6" cy="1576.0" r="6.2"/>
<circle cx="390.5" cy="1571.1" r="6.2"/>
<circle cx="382.3" cy="1576.5" r="6.2"/>
<circle cx="358.2" cy="1576.9" r="6.2"/>
<circle cx="395.6" cy="1571.6" r="6.2"/>
<circle cx="395.3" cy="1575.4" r="6.2"/>
<circle cx="398.4" cy="1574.3" r="6.2"/>
<circle cx="400.1" cy="1578.0" r="6.2"/>
<circle cx="358.4" cy="1571.6" r="6.2"/>
<circle cx="398.2" cy="1580.2" r="6.2"/>
<circle cx="372.3" cy="1575.3" r="6.2"/>
<circle cx="393.2" cy="1574.0" r="6.2"/>
<circle cx="379.2" cy="1574.0" r="6.2"/>
<circle cx="379.5" cy="1576.7" r="6.2"/>
<circle cx="375.3" cy="1574.6" r="6.2"/>
<circle cx="404.1" cy="1571.3" r="6.2"/>
<circle cx="391.7" cy="1578.0" r="6.2"/>
<circle cx="375.9" cy="1573.1" r="6.2"/>
<circle cx="406.0" cy="1573.3" r="6.2"/>
<circle cx="368.4" cy="1575.1" r="6.2"/>
<circle cx="399.6" cy="1572.0" r="6.2"/>
<circle cx="376.6" cy="1574.2" r="6.2"/>
<circle cx="407.8" cy="1575.2" r="6.2"/>
<circle cx="409.2" cy="1572.6" r="6.2"/>
<circle cx="377.5" cy="1577.2" r="6.2"/>
<circle cx="411.0" cy="1575.3" r="6.2"/>
<circle cx="370.7" cy="1572.1" r="6.2"/>
<circle cx="389.3" cy="1572.8" r="6.2"/>
<circle cx="406.2" cy="1579.0" r="6.2"/>
<circle cx="368.2" cy="1573.6" r="6.2"/>
<circle cx="406.2" cy="1577.1" r="6.2"/>
<circle cx="406.2" cy="1574.3" r="6.2"/>
<circle cx="364.9" cy="1573.8" r="6.2"/>
<circle cx="405.4" cy="1573.6" r="6.2"/>
<circle cx="378.1" cy="1575.0" r="6.2"/>
<circle cx="382.6" cy="1574.9" r="6.2"/>
<circle cx="413.2" cy="1572.5" r="6.2"/>
<circle cx="357.3" cy="1580.0" r="6.2"/>
<circle cx="410.7" cy="1580.4" r="6.2"/>
<circle cx="383.5" cy="1580.0" r="6.2"/>
<circle cx="677.1" cy="1375.4" r="6.2"/>
<circle cx="700.6" cy="1450.1" r="6.2"/>
<circle cx="682.7" cy="1467.7" r="6.2"/>
<circle cx="683.1" cy="1475.4" r="6.2"/>
<circle cx="678.4" cy="1499.6" r="6.2"/>
<circle cx="724.8" cy="1496.5" r="6.2"/>
<circle cx="713.5" cy="1505.3" r="6.2"/>
<circle cx="685.8" cy="1515.1" r="6.2"/>
<circle cx="711.7" cy="1520.7" r="6.2"/>
<circle cx="733.3" cy="1520.7" r="6.2"/>
<circle cx="734.2" cy="1521.3" r="6.2"/>
<circle cx="710.6" cy="1526.4" r="6.2"/>
<circle cx="711.5" cy="1527.0" r="6.2"/>
<circle cx="728.8" cy="1527.8" r="6.2"/>
<circle cx="700.7" cy="1529.9" r="6.2"/>
<circle cx="710.6" cy="1532.0" r="6.2"/>
<circle cx="679.6" cy="1535.8" r="6.2"/>
<circle cx="697.9" cy="1539.7" r="6.2"/>
<circle cx="700.7" cy="1541.8" r="6.2"/>
<circle cx="712.0" cy="1539.7" r="6.2"/>
<circle cx="727.0" cy="1540.4" r="6.2"/>
<circle cx="683.1" cy="1543.9" r="6.2"/>
<circle cx="678.2" cy="1546.8" r="6.2"/>
<circle cx="693.0" cy="1548.9" r="6.2"/>
<circle cx="715.5" cy="1552.4" r="6.2"/>
<circle cx="699.3" cy="1555.2" r="6.2"/>
<circle cx="678.2" cy="1555.9" r="6.2"/>
<circle cx="729.5" cy="1559.4" r="6.2"/>
<circle cx="739.4" cy="1557.3" r="6.2"/>
<circle cx="735.0" cy="1558.5" r="6.2"/>
<circle cx="690.2" cy="1561.5" r="6.2"/>
<circle cx="702.8" cy="1560.1" r="6.2"/>
<circle cx="718.3" cy="1561.5" r="6.2"/>
<circle cx="691.9" cy="1565.9" r="6.2"/>
<circle cx="702.0" cy="1566.8" r="6.2"/>
<circle cx="681.2" cy="1571.2" r="6.2"/>
<circle cx="734.8" cy="1578.4" r="6.2"/>
<circle cx="725.2" cy="1568.0" r="6.2"/>
<circle cx="710.8" cy="1569.0" r="6.2"/>
<circle cx="687.9" cy="1565.9" r="6.2"/>
<circle cx="690.5" cy="1580.7" r="6.2"/>
<circle cx="729.2" cy="1578.5" r="6.2"/>
<circle cx="727.4" cy="1567.5" r="6.2"/>
<circle cx="696.5" cy="1575.3" r="6.2"/>
<circle cx="723.1" cy="1579.4" r="6.2"/>
<circle cx="732.4" cy="1565.6" r="6.2"/>
<circle cx="715.2" cy="1576.1" r="6.2"/>
<circle cx="708.9" cy="1567.2" r="6.2"/>
<circle cx="706.8" cy="1565.6" r="6.2"/>
<circle cx="735.9" cy="1579.6" r="6.2"/>
<circle cx="711.5" cy="1569.4" r="6.2"/>
<circle cx="734.3" cy="1574.3" r="6.2"/>
<circle cx="732.6" cy="1579.3" r="6.2"/>
<circle cx="709.0" cy="1571.5" r="6.2"/>
<circle cx="714.7" cy="1571.8" r="6.2"/>
<circle cx="687.2" cy="1569.5" r="6.2"/>
<circle cx="728.2" cy="1564.8" r="6.2"/>
<circle cx="679.9" cy="1575.3" r="6.2"/>
<circle cx="694.7" cy="1573.6" r="6.2"/>
<circle cx="706.7" cy="1570.2" r="6.2"/>
<circle cx="739.8" cy="1567.5" r="6.2"/>
<circle cx="703.0" cy="1567.6" r="6.2"/>
<circle cx="716.9" cy="1569.0" r="6.2"/>
<circle cx="699.4" cy="1577.4" r="6.2"/>
<circle cx="697.2" cy="1574.1" r="6.2"/>
<circle cx="734.0" cy="1565.8" r="6.2"/>
<circle cx="680.9" cy="1568.1" r="6.2"/>
<circle cx="725.2" cy="1575.1" r="6.2"/>
<circle cx="692.0" cy="1570.0" r="6.2"/>
<circle cx="688.2" cy="1572.3" r="6.2"/>
<circle cx="679.7" cy="1576.6" r="6.2"/>
<circle cx="733.4" cy="1581.2" r="6.2"/>
<circle cx="723.3" cy="1581.3" r="6.2"/>
<circle cx="678.1" cy="1569.2" r="6.2"/>
<circle cx="737.9" cy="1578.0" r="6.2"/>
<circle cx="702.9" cy="1581.0" r="6.2"/>
<circle cx="716.1" cy="1578.7" r="6.2"/>
<circle cx="695.5" cy="1567.4" r="6.2"/>
<circle cx="705.0" cy="1566.5" r="6.2"/>
<circle cx="701.0" cy="1581.3" r="6.2"/>
<circle cx="697.9" cy="1564.2" r="6.2"/>
<circle cx="679.8" cy="1567.1" r="6.2"/>
<circle cx="726.4" cy="1570.5" r="6.2"/>
<circle cx="695.3" cy="1565.7" r="6.2"/>
<circle cx="738.9" cy="1571.6" r="6.2"/>
<circle cx="690.1" cy="1565.1" r="6.2"/>
<circle cx="680.5" cy="1567.0" r="6.2"/>
<circle cx="719.6" cy="1566.7" r="6.2"/>
<circle cx="679.6" cy="1572.8" r="6.2"/>
<circle cx="692.7" cy="1582.0" r="6.2"/>
<circle cx="684.7" cy="1573.5" r="6.2"/>
<circle cx="725.7" cy="1571.4" r="6.2"/>
<circle cx="739.2" cy="1572.6" r="6.2"/>
<circle cx="692.2" cy="1571.4" r="6.2"/>
<circle cx="679.3" cy="1571.6" r="6.2"/>
<circle cx="692.7" cy="1580.0" r="6.2"/>
<circle cx="729.4" cy="1573.0" r="6.2"/>
<circle cx="679.0" cy="1568.6" r="6.2"/>
<circle cx="692.3" cy="1567.7" r="6.2"/>
<circle cx="691.6" cy="1579.7" r="6.2"/>
<circle cx="685.9" cy="1564.9" r="6.2"/>
<circle cx="735.5" cy="1574.2" r="6.2"/>
<circle cx="739.4" cy="1571.3" r="6.2"/>
<circle cx="733.8" cy="1575.8" r="6.2"/>
<circle cx="726.8" cy="1577.4" r="6.2"/>
<circle cx="708.1" cy="1565.7" r="6.2"/>
<circle cx="690.3" cy="1579.7" r="6.2"/>
<circle cx="733.7" cy="1580.6" r="6.2"/>
<circle cx="698.2" cy="1575.8" r="6.2"/>
<circle cx="727.4" cy="1575.6" r="6.2"/>
<circle cx="728.3" cy="1573.5" r="6.2"/>
<circle cx="718.2" cy="1576.3" r="6.2"/>
<circle cx="693.9" cy="1580.6" r="6.2"/>
<circle cx="737.2" cy="1565.3" r="6.2"/>
<circle cx="738.2" cy="1581.3" r="6.2"/>
<circle cx="719.1" cy="1564.8" r="6.2"/>
<circle cx="733.6" cy="1566.3" r="6.2"/>
<circle cx="738.0" cy="1576.0" r="6.2"/>
<circle cx="680.8" cy="1567.0" r="6.2"/>
<circle cx="717.0" cy="1574.2" r="6.2"/>
<circle cx="724.0" cy="1580.7" r="6.2"/>
<circle cx="690.8" cy="1564.1" r="6.2"/>
<circle cx="735.1" cy="1564.2" r="6.2"/>
<circle cx="732.2" cy="1566.1" r="6.2"/>
<circle cx="728.0" cy="1578.1" r="6.2"/>
<circle cx="732.3" cy="1573.9" r="6.2"/>
<circle cx="732.4" cy="1567.6" r="6.2"/>
<circle cx="719.3" cy="1570.0" r="6.2"/>
<circle cx="733.2" cy="1577.9" r="6.2"/>
<circle cx="706.7" cy="1573.5" r="6.2"/>
<circle cx="678.7" cy="1564.6" r="6.2"/>
<circle cx="714.5" cy="1572.8" r="6.2"/>
<circle cx="731.5" cy="1574.9" r="6.2"/>
<circle cx="685.7" cy="1570.5" r="6.2"/>
<circle cx="725.4" cy="1573.4" r="6.2"/>
<circle cx="677.7" cy="1579.1" r="6.2"/>
<circle cx="729.1" cy="1565.5" r="6.2"/>
<circle cx="711.2" cy="1570.9" r="6.2"/>
<circle cx="726.6" cy="1569.6" r="6.2"/>
<circle cx="691.7" cy="1572.8" r="6.2"/>
<circle cx="737.9" cy="1565.7" r="6.2"/>
<circle cx="684.2" cy="1575.2" r="6.2"/>
<circle cx="732.8" cy="1573.2" r="6.2"/>
<circle cx="704.3" cy="1579.4" r="6.2"/>
<circle cx="725.9" cy="1565.2" r="6.2"/>
<circle cx="732.5" cy="1567.5" r="6.2"/>
<circle cx="696.0" cy="1579.1" r="6.2"/>
<circle cx="703.6" cy="1578.4" r="6.2"/>
<circle cx="687.5" cy="1579.7" r="6.2"/>
<circle cx="688.1" cy="1566.7" r="6.2"/>
<circle cx="708.1" cy="1570.1" r="6.2"/>
<circle cx="1040.7" cy="1258.9" r="6.2"/>
<circle cx="1056.5" cy="1377.8" r="6.2"/>
<circle cx="1013.4" cy="1442.1" r="6.2"/>
<circle cx="1008.0" cy="1445.8" r="6.2"/>
<circle cx="1008.9" cy="1446.4" r="6.2"/>
<circle cx="1061.9" cy="1443.8" r="6.2"/>
<circle cx="1054.5" cy="1449.9" r="6.2"/>
<circle cx="1027.2" cy="1468.1" r="6.2"/>
<circle cx="1034.0" cy="1476.5" r="6.2"/>
<circle cx="1042.1" cy="1480.2" r="6.2"/>
<circle cx="1017.6" cy="1493.4" r="6.2"/>
<circle cx="1042.4" cy="1494.4" r="6.2"/>
<circle cx="1051.1" cy="1504.2" r="6.2"/>
<circle cx="1007.7" cy="1516.7" r="6.2"/>
<circle cx="1011.1" cy="1520.3" r="6.2"/>
<circle cx="1050.6" cy="1520.9" r="6.2"/>
<circle cx="1059.9" cy="1520.7" r="6.2"/>
<circle cx="1054.6" cy="1524.3" r="6.2"/>
<circle cx="1035.6" cy="1530.2" r="6.2"/>
<circle cx="1027.2" cy="1531.6" r="6.2"/>
<circle cx="1057.7" cy="1535.0" r="6.2"/>
<circle cx="1008.0" cy="1538.4" r="6.2"/>
<circle cx="1038.5" cy="1537.3" r="6.2"/>
<circle cx="1043.0" cy="1540.7" r="6.2"/>
<circle cx="1017.0" cy="1544.6" r="6.2"/>
<circle cx="1047.5" cy="1544.1" r="6.2"/>
<circle cx="1004.0" cy="1547.5" r="6.2"/>
<circle cx="1024.7" cy="1550.6" r="6.2"/>
<circle cx="1048.6" cy="1550.3" r="6.2"/>
<circle cx="1054.3" cy="1551.4" r="6.2"/>
<circle cx="1061.1" cy="1553.7" r="6.2"/>
<circle cx="1002.3" cy="1555.4" r="6.2"/>
<circle cx="1003.2" cy="1556.0" r="6.2"/>
<circle cx="1004.1" cy="1556.6" r="6.2"/>
<circle cx="1021.5" cy="1558.2" r="6.2"/>
<circle cx="1059.9" cy="1560.5" r="6.2"/>
<circle cx="1060.8" cy="1561.1" r="6.2"/>
<circle cx="1001.2" cy="1563.8" r="6.2"/>
<circle cx="1002.1" cy="1564.4" r="6.2"/>
<circle cx="1013.6" cy="1563.8" r="6.2"/>
<circle cx="1038.5" cy="1564.4" r="6.2"/>
<circle cx="1054.3" cy="1566.1" r="6.2"/>
<circle cx="1055.2" cy="1566.7" r="6.2"/>
<circle cx="1000.1" cy="1569.5" r="6.2"/>
<circle cx="1001.0" cy="1570.1" r="6.2"/>
<circle cx="1019.3" cy="1568.4" r="6.2"/>
<circle cx="1044.1" cy="1569.5" r="6.2"/>
<circle cx="1061.1" cy="1567.2" r="6.2"/>
<circle cx="1002.3" cy="1576.3" r="6.2"/>
<circle cx="1003.2" cy="1576.9" r="6.2"/>
<circle cx="1018.1" cy="1577.4" r="6.2"/>
<circle cx="1019.0" cy="1578.0" r="6.2"/>
<circle cx="1019.9" cy="1578.6" r="6.2"/>
<circle cx="1003.4" cy="1580.8" r="6.2"/>
<circle cx="1034.0" cy="1579.7" r="6.2"/>
<circle cx="1045.3" cy="1580.8" r="6.2"/>
<circle cx="1046.2" cy="1581.4" r="6.2"/>
<circle cx="1054.3" cy="1576.3" r="6.2"/>
<circle cx="1055.2" cy="1576.9" r="6.2"/>
<circle cx="1056.1" cy="1577.5" r="6.2"/>
<circle cx="1059.9" cy="1580.8" r="6.2"/>
<circle cx="1017.0" cy="1580.8" r="6.2"/>
<circle cx="1329.2" cy="1397.2" r="6.2"/>
<circle cx="1348.0" cy="1421.0" r="6.2"/>
<circle cx="1369.6" cy="1459.6" r="6.2"/>
<circle cx="1351.3" cy="1499.1" r="6.2"/>
<circle cx="1353.7" cy="1511.6" r="6.2"/>
<circle cx="1321.5" cy="1532.5" r="6.2"/>
<circle cx="1380.6" cy="1533.7" r="6.2"/>
<circle cx="1325.7" cy="1537.9" r="6.2"/>
<circle cx="1331.4" cy="1542.7" r="6.2"/>
<circle cx="1348.3" cy="1544.2" r="6.2"/>
<circle cx="1322.3" cy="1548.2" r="6.2"/>
<circle cx="1334.4" cy="1548.2" r="6.2"/>
<circle cx="1336.2" cy="1554.2" r="6.2"/>
<circle cx="1335.0" cy="1559.6" r="6.2"/>
<circle cx="1378.8" cy="1558.4" r="6.2"/>
<circle cx="1373.6" cy="1560.8" r="6.2"/>
<circle cx="1347.0" cy="1567.5" r="6.2"/>
<circle cx="1359.7" cy="1566.3" r="6.2"/>
<circle cx="1371.8" cy="1568.1" r="6.2"/>
<circle cx="1382.0" cy="1568.1" r="6.2"/>
<circle cx="1320.5" cy="1570.5" r="6.2"/>
<circle cx="1324.7" cy="1572.9" r="6.2"/>
<circle cx="1335.6" cy="1570.5" r="6.2"/>
<circle cx="1336.5" cy="1571.1" r="6.2"/>
<circle cx="1342.8" cy="1572.9" r="6.2"/>
<circle cx="1352.5" cy="1572.9" r="6.2"/>
<circle cx="1362.1" cy="1571.7" r="6.2"/>
<circle cx="1363.0" cy="1572.3" r="6.2"/>
<circle cx="1370.6" cy="1572.9" r="6.2"/>
<circle cx="1379.0" cy="1572.9" r="6.2"/>
<circle cx="1324.1" cy="1578.9" r="6.2"/>
<circle cx="1325.0" cy="1579.5" r="6.2"/>
<circle cx="1336.8" cy="1578.9" r="6.2"/>
<circle cx="1337.7" cy="1579.5" r="6.2"/>
<circle cx="1361.5" cy="1578.9" r="6.2"/>
<circle cx="1362.4" cy="1579.5" r="6.2"/>
<circle cx="1370.6" cy="1577.7" r="6.2"/>
<circle cx="1382.6" cy="1576.5" r="6.2"/>
<circle cx="1678.1" cy="1091.8" r="6.2"/>
<circle cx="1670.1" cy="1195.7" r="6.2"/>
<circle cx="1667.0" cy="1201.7" r="6.2"/>
<circle cx="1648.2" cy="1277.7" r="6.2"/>
<circle cx="1661.8" cy="1285.8" r="6.2"/>
<circle cx="1652.0" cy="1291.7" r="6.2"/>
<circle cx="1641.1" cy="1299.8" r="6.2"/>
<circle cx="1647.7" cy="1308.4" r="6.2"/>
<circle cx="1680.7" cy="1301.6" r="6.2"/>
<circle cx="1688.6" cy="1302.8" r="6.2"/>
<circle cx="1671.9" cy="1312.0" r="6.2"/>
<circle cx="1684.5" cy="1316.1" r="6.2"/>
<circle cx="1694.8" cy="1321.1" r="6.2"/>
<circle cx="1694.0" cy="1322.9" r="6.2"/>
<circle cx="1674.9" cy="1327.4" r="6.2"/>
<circle cx="1687.9" cy="1326.9" r="6.2"/>
<circle cx="1649.3" cy="1333.3" r="6.2"/>
<circle cx="1695.7" cy="1349.8" r="6.2"/>
<circle cx="1641.4" cy="1360.7" r="6.2"/>
<circle cx="1676.4" cy="1363.4" r="6.2"/>
<circle cx="1663.3" cy="1367.6" r="6.2"/>
<circle cx="1666.5" cy="1369.0" r="6.2"/>
<circle cx="1658.3" cy="1374.0" r="6.2"/>
<circle cx="1659.2" cy="1374.6" r="6.2"/>
<circle cx="1654.2" cy="1383.0" r="6.2"/>
<circle cx="1684.1" cy="1381.6" r="6.2"/>
<circle cx="1680.9" cy="1385.7" r="6.2"/>
<circle cx="1683.2" cy="1386.2" r="6.2"/>
<circle cx="1684.1" cy="1391.1" r="6.2"/>
<circle cx="1685.0" cy="1391.7" r="6.2"/>
<circle cx="1676.2" cy="1399.7" r="6.2"/>
<circle cx="1694.8" cy="1405.9" r="6.2"/>
<circle cx="1702.0" cy="1411.9" r="6.2"/>
<circle cx="1662.6" cy="1411.3" r="6.2"/>
<circle cx="1654.7" cy="1413.3" r="6.2"/>
<circle cx="1657.9" cy="1418.3" r="6.2"/>
<circle cx="1662.8" cy="1421.9" r="6.2"/>
<circle cx="1641.4" cy="1423.7" r="6.2"/>
<circle cx="1675.5" cy="1421.4" r="6.2"/>
<circle cx="1679.6" cy="1428.2" r="6.2"/>
<circle cx="1685.4" cy="1429.6" r="6.2"/>
<circle cx="1679.6" cy="1434.1" r="6.2"/>
<circle cx="1694.9" cy="1435.9" r="6.2"/>
<circle cx="1704.0" cy="1439.9" r="6.2"/>
<circle cx="1647.6" cy="1445.9" r="6.2"/>
<circle cx="1656.3" cy="1445.5" r="6.2"/>
<circle cx="1663.0" cy="1443.1" r="6.2"/>
<circle cx="1664.9" cy="1446.4" r="6.2"/>
<circle cx="1674.5" cy="1453.6" r="6.2"/>
<circle cx="1675.4" cy="1454.2" r="6.2"/>
<circle cx="1685.1" cy="1455.1" r="6.2"/>
<circle cx="1640.9" cy="1458.4" r="6.2"/>
<circle cx="1643.8" cy="1459.4" r="6.2"/>
<circle cx="1674.5" cy="1465.1" r="6.2"/>
<circle cx="1642.8" cy="1467.1" r="6.2"/>
<circle cx="1651.0" cy="1469.5" r="6.2"/>
<circle cx="1683.2" cy="1471.4" r="6.2"/>
<circle cx="1680.3" cy="1473.3" r="6.2"/>
<circle cx="1671.2" cy="1475.7" r="6.2"/>
<circle cx="1658.7" cy="1476.7" r="6.2"/>
<circle cx="1641.9" cy="1478.1" r="6.2"/>
<circle cx="1651.5" cy="1482.0" r="6.2"/>
<circle cx="1654.4" cy="1487.2" r="6.2"/>
<circle cx="1669.3" cy="1488.7" r="6.2"/>
<circle cx="1698.5" cy="1482.9" r="6.2"/>
<circle cx="1702.9" cy="1489.2" r="6.2"/>
<circle cx="1688.0" cy="1488.7" r="6.2"/>
<circle cx="1688.9" cy="1489.3" r="6.2"/>
<circle cx="1687.0" cy="1494.9" r="6.2"/>
<circle cx="1687.9" cy="1495.5" r="6.2"/>
<circle cx="1659.2" cy="1502.1" r="6.2"/>
<circle cx="1663.0" cy="1505.5" r="6.2"/>
<circle cx="1663.9" cy="1506.1" r="6.2"/>
<circle cx="1667.8" cy="1508.4" r="6.2"/>
<circle cx="1690.9" cy="1503.6" r="6.2"/>
<circle cx="1691.8" cy="1504.2" r="6.2"/>
<circle cx="1702.4" cy="1503.6" r="6.2"/>
<circle cx="1686.1" cy="1509.8" r="6.2"/>
<circle cx="1691.8" cy="1511.3" r="6.2"/>
<circle cx="1692.7" cy="1511.9" r="6.2"/>
<circle cx="1643.3" cy="1510.3" r="6.2"/>
<circle cx="1645.2" cy="1516.1" r="6.2"/>
<circle cx="1656.3" cy="1518.0" r="6.2"/>
<circle cx="1657.2" cy="1523.7" r="6.2"/>
<circle cx="1649.6" cy="1525.7" r="6.2"/>
<circle cx="1677.4" cy="1525.7" r="6.2"/>
<circle cx="1678.3" cy="1526.3" r="6.2"/>
<circle cx="1700.5" cy="1523.7" r="6.2"/>
<circle cx="1696.6" cy="1527.6" r="6.2"/>
<circle cx="1640.9" cy="1531.0" r="6.2"/>
<circle cx="1651.5" cy="1535.0" r="6.2"/>
<circle cx="1642.4" cy="1540.7" r="6.2"/>
<circle cx="1643.3" cy="1541.3" r="6.2"/>
<circle cx="1644.2" cy="1541.9" r="6.2"/>
<circle cx="1640.9" cy="1545.5" r="6.2"/>
<circle cx="1665.9" cy="1534.0" r="6.2"/>
<circle cx="1666.8" cy="1534.6" r="6.2"/>
<circle cx="1673.6" cy="1532.1" r="6.2"/>
<circle cx="1674.5" cy="1532.7" r="6.2"/>
<circle cx="1681.3" cy="1535.9" r="6.2"/>
<circle cx="1674.5" cy="1540.7" r="6.2"/>
<circle cx="1675.4" cy="1541.3" r="6.2"/>
<circle cx="1700.5" cy="1539.8" r="6.2"/>
<circle cx="1701.4" cy="1540.4" r="6.2"/>
<circle cx="1660.6" cy="1547.5" r="6.2"/>
<circle cx="1666.8" cy="1552.3" r="6.2"/>
<circle cx="1667.7" cy="1552.9" r="6.2"/>
<circle cx="1681.3" cy="1550.3" r="6.2"/>
<circle cx="1682.2" cy="1550.9" r="6.2"/>
<circle cx="1664.9" cy="1556.1" r="6.2"/>
<circle cx="1665.8" cy="1556.7" r="6.2"/>
<circle cx="1682.2" cy="1557.1" r="6.2"/>
<circle cx="1692.8" cy="1554.2" r="6.2"/>
<circle cx="1696.6" cy="1556.1" r="6.2"/>
<circle cx="1704.3" cy="1557.1" r="6.2"/>
<circle cx="1647.6" cy="1565.7" r="6.2"/>
<circle cx="1662.0" cy="1565.7" r="6.2"/>
<circle cx="1682.2" cy="1565.7" r="6.2"/>
<circle cx="1692.8" cy="1567.6" r="6.2"/>
<circle cx="1698.5" cy="1568.6" r="6.2"/>
<circle cx="1647.6" cy="1572.4" r="6.2"/>
<circle cx="1661.1" cy="1571.5" r="6.2"/>
<circle cx="1640.9" cy="1580.6" r="6.2"/>
<circle cx="1652.4" cy="1581.1" r="6.2"/>
<circle cx="1661.1" cy="1580.1" r="6.2"/>
<circle cx="1682.2" cy="1579.2" r="6.2"/>
<circle cx="1689.9" cy="1580.1" r="6.2"/>
<circle cx="1696.6" cy="1580.1" r="6.2"/>
<circle cx="1667.2" cy="1574.0" r="6.2"/>
<circle cx="1694.6" cy="1572.5" r="6.2"/>
<circle cx="1670.5" cy="1574.4" r="6.2"/>
<circle cx="1651.7" cy="1573.2" r="6.2"/>
<circle cx="1677.5" cy="1577.7" r="6.2"/>
<circle cx="1646.5" cy="1569.9" r="6.2"/>
<circle cx="1646.3" cy="1578.0" r="6.2"/>
<circle cx="1681.2" cy="1565.7" r="6.2"/>
<circle cx="1698.0" cy="1580.4" r="6.2"/>
<circle cx="1678.9" cy="1574.8" r="6.2"/>
<circle cx="1650.1" cy="1565.2" r="6.2"/>
<circle cx="1671.6" cy="1566.0" r="6.2"/>
<circle cx="1652.0" cy="1568.9" r="6.2"/>
<circle cx="1642.7" cy="1572.4" r="6.2"/>
<circle cx="1666.6" cy="1578.5" r="6.2"/>
<circle cx="1671.1" cy="1575.2" r="6.2"/>
<circle cx="1670.0" cy="1575.6" r="6.2"/>
<circle cx="1667.5" cy="1569.5" r="6.2"/>
<circle cx="1698.9" cy="1580.9" r="6.2"/>
<circle cx="1689.7" cy="1576.3" r="6.2"/>
<circle cx="1659.3" cy="1568.7" r="6.2"/>
<circle cx="1657.8" cy="1566.1" r="6.2"/>
<circle cx="1685.4" cy="1571.4" r="6.2"/>
<circle cx="1690.1" cy="1571.2" r="6.2"/>
<circle cx="1676.9" cy="1553.2" r="6.2"/>
<circle cx="1685.3" cy="1546.0" r="6.2"/>
<circle cx="1656.5" cy="1549.2" r="6.2"/>
<circle cx="1668.1" cy="1555.3" r="6.2"/>
<circle cx="1686.4" cy="1552.4" r="6.2"/>
<circle cx="1680.6" cy="1553.3" r="6.2"/>
<circle cx="1662.4" cy="1550.2" r="6.2"/>
</g>
</g>
</svg></body></html>
